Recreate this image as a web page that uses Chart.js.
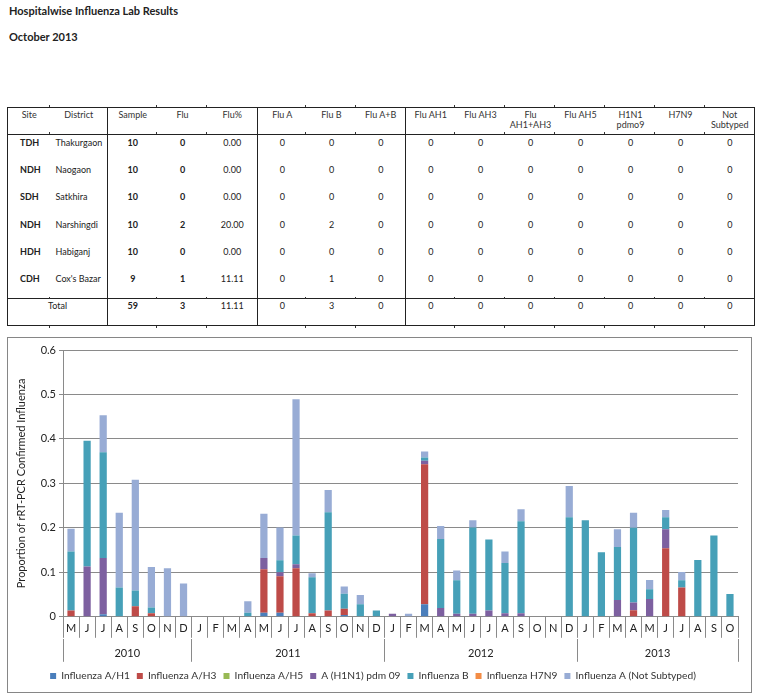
<!DOCTYPE html>
<html>
<head>
<meta charset="utf-8">
<script src="https://cdn.jsdelivr.net/npm/chart.js@4.4.0/dist/chart.umd.min.js"></script>
<style>
  body { margin: 0; background: #fff; font-family: Lato, "Noto Sans", sans-serif; color: #222; }
  .title { position: absolute; left: 9px; font-size: 11px; font-weight: bold; color: #222; }
  #tbl { position: absolute; left: 7px; top: 107px; border-collapse: collapse; table-layout: fixed; width: 747px; font-size: 9px; }
  #tbl td { padding: 3px 0 0 0; text-align: center; vertical-align: top; line-height: 10px; height: 24.2px; white-space: pre-line; overflow: hidden; }
  #tbl tr.head td { padding-top: 2px; height: 24px; color: #333; }
  #tbl tr.total td { border-top: 1px solid #222; height: 24px; padding-top: 2px; }
  #tbl td.sep { border-right: 1px solid #222; }
  #tbl td.left { text-align: left; }
  #tbl .b { font-weight: bold; }
  .tick { position: absolute; width: 1px; height: 2px; background: #333; }
  #box { position: absolute; left: 7px; top: 337px; width: 745px; height: 356px; border: 1px solid #868686; box-sizing: border-box; }
</style>
</head>
<body>
<div class="title" style="top:4px">Hospitalwise Influenza Lab Results</div>
<div class="title" style="top:30px">October 2013</div>
<table id="tbl"></table>
<div id="box"><canvas id="myChart" width="743" height="354"></canvas></div>
<script>
// table data
const tableHead = ['Site', 'District', 'Sample', 'Flu', 'Flu%', 'Flu A', 'Flu B', 'Flu A+B', 'Flu AH1', 'Flu AH3', 'Flu\nAH1+AH3', 'Flu AH5', 'H1N1\npdmo9', 'H7N9', 'Not\nSubtyped'];
const sites = ['TDH', 'NDH', 'SDH', 'NDH', 'HDH', 'CDH'];
const districts = ['Thakurgaon', 'Naogaon', 'Satkhira', 'Narshingdi', 'Habiganj', "Cox's Bazar"];
const samples = [10, 10, 10, 10, 10, 9];
const fluPos = [0, 0, 0, 2, 0, 1];
const fluPct = ['0.00', '0.00', '0.00', '20.00', '0.00', '11.11'];
const fluA = [0, 0, 0, 0, 0, 0];
const fluB = [0, 0, 0, 2, 0, 1];
const subtypeZeros = [0, 0, 0, 0, 0, 0, 0, 0]; // Flu A+B .. Not Subtyped
const totalRow = ['59', '3', '11.11', '0', '3', '0', '0', '0', '0', '0', '0', '0', '0'];

// chart data
const months = ['M','J','J','A','S','O','N','D',
  'J','F','M','A','M','J','J','A','S','O','N','D',
  'J','F','M','A','M','J','J','A','S','O','N','D',
  'J','F','M','A','M','J','J','A','S','O'];
const years = ['2010','2011','2012','2013'];
const yearStart = [0, 8, 20, 32, 42];
const yTicks = ['0', '0.1', '0.2', '0.3', '0.4', '0.5', '0.6'];

const fluAH1 = [0,0,0.006,0,0,0,0,0, 0,0,0,0,0.009,0.009,0,0,0,0.004,0,0, 0,0,0.028,0,0,0,0,0,0,0,0,0, 0,0,0,0,0,0,0,0,0,0];
const fluAH3 = [0.014,0,0,0,0.024,0.008,0,0, 0,0,0,0,0.098,0.082,0.109,0.008,0.014,0.014,0,0, 0,0,0.315,0,0,0,0,0,0,0,0,0, 0,0,0,0.015,0,0.154,0.066,0,0,0];
const fluAH5 = [0,0,0,0,0,0,0,0, 0,0,0,0,0,0,0,0,0,0,0,0, 0,0,0,0,0,0,0,0,0,0,0,0, 0,0,0,0,0,0,0,0,0,0];
const h1n1 = [0,0.113,0.126,0,0,0,0,0, 0,0,0,0,0.025,0.009,0.009,0,0,0,0,0, 0.007,0,0.008,0.020,0.007,0.007,0.014,0.008,0.008,0,0,0, 0,0,0.038,0.017,0.040,0.043,0,0,0,0];
const fluBSeries = [0.133,0.283,0.238,0.066,0.035,0.013,0,0, 0,0,0,0.009,0,0.027,0.065,0.081,0.221,0.034,0.028,0.014, 0,0,0.007,0.155,0.075,0.194,0.160,0.113,0.207,0,0,0.224, 0.217,0.145,0.119,0.168,0.022,0.027,0.016,0.128,0.183,0.051];
const h7n9 = [0,0,0,0,0,0,0,0, 0,0,0,0,0,0,0,0,0,0,0,0, 0,0,0,0,0,0,0,0,0,0,0,0, 0,0,0,0,0,0,0,0,0,0];
const notSubtyped = [0.051,0,0.083,0.168,0.249,0.091,0.109,0.075, 0,0,0,0.026,0.100,0.074,0.306,0.009,0.050,0.016,0.021,0, 0,0.007,0.014,0.029,0.022,0.016,0,0.026,0.027,0,0,0.070, 0,0,0.040,0.034,0.021,0.016,0.019,0,0,0];

// build the table
const colW = [43, 57, 50, 50, 50, 49, 50, 49, 50, 50, 50, 50, 50, 50, 49];
const sepCols = [1, 4, 7];
const tbl = document.getElementById('tbl');
const cg = document.createElement('colgroup');
colW.forEach(w => { const c = document.createElement('col'); c.style.width = w + 'px'; cg.appendChild(c); });
tbl.appendChild(cg);

function addRow(cells, cls, boldCols, leftCols) {
  const tr = document.createElement('tr');
  if (cls) tr.className = cls;
  let col = 0;
  cells.forEach(cell => {
    const td = document.createElement('td');
    const text = typeof cell === 'object' ? cell.t : cell;
    const span = typeof cell === 'object' ? cell.span : 1;
    td.textContent = text;
    if (span > 1) td.colSpan = span;
    col += span;
    if (sepCols.includes(col - 1)) td.classList.add('sep');
    if (boldCols && boldCols.includes(col - 1)) td.classList.add('b');
    if (leftCols && leftCols.includes(col - 1)) {
      td.classList.add('left');
      td.style.paddingLeft = (col - 1 === 0 ? 12 : 5) + 'px';
    }
    tr.appendChild(td);
  });
  tbl.appendChild(tr);
}
addRow(tableHead, 'head');
tbl.rows[0].style.borderBottom = '1px solid #222';
sites.forEach((s, i) => {
  addRow([s, districts[i], samples[i], fluPos[i], fluPct[i], fluA[i], fluB[i]].concat(subtypeZeros), '', [0, 2, 3], [0, 1]);
});
addRow([{ t: 'Total', span: 2 }].concat(totalRow), 'total', [2, 3]);
tbl.style.border = '1px solid #222';

// little marks at the column boundaries
let xb = 7;
const marks = [];
colW.forEach((w, i) => { xb += w; if (i < colW.length - 1 && !sepCols.includes(i)) marks.push(xb); });
const tRect = tbl.getBoundingClientRect();
const headB = tbl.rows[0].getBoundingClientRect().bottom;
const totT = tbl.rows[tbl.rows.length - 1].getBoundingClientRect().top;
[tRect.top - 2, headB - 3, totT - 2, tRect.bottom].forEach(y => {
  marks.forEach(x => {
    const d = document.createElement('div');
    d.className = 'tick';
    d.style.left = (x - 1) + 'px';
    d.style.top = y + 'px';
    document.body.appendChild(d);
  });
});

// chart
const font = { family: 'Lato', size: 11 };
const legendFont = { family: 'Lato', size: 10.2 };
const gridGray = '#8a8a8a';
const series = [
  { label: 'Influenza A/H1', data: fluAH1, color: '#4a7ebb' },
  { label: 'Influenza A/H3', data: fluAH3, color: '#be4b48' },
  { label: 'Influenza A/H5', data: fluAH5, color: '#98b954' },
  { label: 'A (H1N1) pdm 09', data: h1n1, color: '#7d60a0' },
  { label: 'Influenza B', data: fluBSeries, color: '#46a0b8' },
  { label: 'Influenza H7N9', data: h7n9, color: '#f38c45' },
  { label: 'Influenza A (Not Subtyped)', data: notSubtyped, color: '#98acd5' }
];
const yearLabels = months.map(() => '');
years.forEach((y, i) => { yearLabels[(yearStart[i] + yearStart[i + 1]) / 2 - 1] = y; });

const ctx = document.getElementById('myChart').getContext('2d');
new Chart(ctx, {
  type: 'bar',
  data: {
    labels: months,
    datasets: series.map(s => ({
      label: s.label,
      data: s.data,
      backgroundColor: s.color,
      borderWidth: 0,
      barPercentage: 0.45,
      categoryPercentage: 1.0
    }))
  },
  options: {
    responsive: false,
    animation: false,
    layout: { padding: { left: 0, right: 13, top: 12, bottom: 1 } },
    plugins: {
      tooltip: { enabled: false },
      legend: {
        position: 'bottom',
        labels: { boxWidth: 6, boxHeight: 6, padding: 7, color: '#333', font: legendFont }
      }
    },
    scales: {
      x: {
        stacked: true,
        weight: 0,
        grid: { offset: true, drawOnChartArea: false, tickLength: 21, color: gridGray },
        border: { color: gridGray },
        ticks: { padding: -16, color: '#222', font: font, autoSkip: false, maxRotation: 0 },
        afterFit: s => { s.height = 22; }
      },
      x2: {
        type: 'category',
        labels: months.map((m, i) => i),
        position: 'bottom',
        weight: 1,
        grid: {
          offset: true,
          drawOnChartArea: false,
          tickLength: 23,
          color: c => (c.index === undefined || yearStart.includes(c.index)) ? gridGray : 'rgba(0,0,0,0)'
        },
        border: { display: false },
        ticks: {
          padding: -15,
          labelOffset: 8,
          color: '#222',
          font: font,
          autoSkip: false,
          maxRotation: 0,
          callback: (v, i) => yearLabels[i]
        },
        afterFit: s => { s.height = 25; }
      },
      y: {
        stacked: true,
        min: 0,
        max: 0.6,
        ticks: { stepSize: 0.1, padding: 3, color: '#222', font: font, callback: (v, i) => yTicks[i] },
        grid: { color: gridGray, tickLength: 4 },
        border: { color: gridGray },
        title: { display: true, text: 'Proportion of rRT-PCR Confirmed Influenza', color: '#222', font: font, padding: { top: 7, bottom: 0 } },
        afterFit: s => { s.width = 55; }
      }
    }
  }
});
</script>
</body>
</html>
